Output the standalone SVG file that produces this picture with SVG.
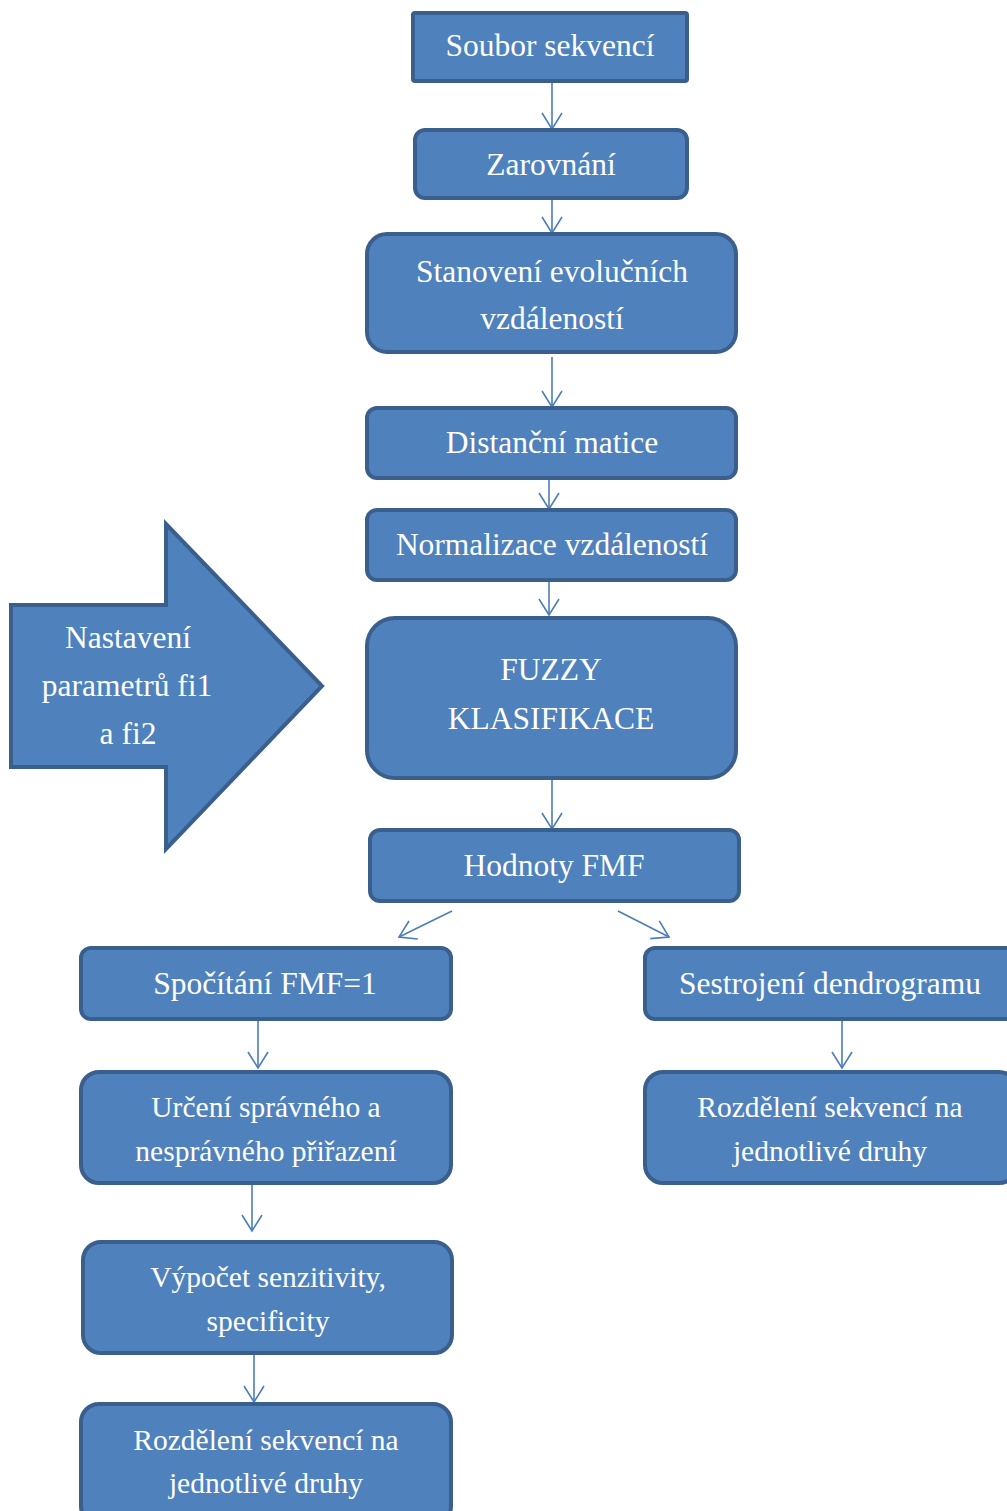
<svg xmlns="http://www.w3.org/2000/svg" width="1007" height="1511" viewBox="0 0 1007 1511">
<defs>
<style>
.n{fill:#4F81BD;stroke:#3A5F8C;stroke-width:4}
.t{font-family:'Liberation Serif','Times New Roman',Times,'DejaVu Serif',serif;font-size:31.5px;fill:#FFFFFF;text-anchor:middle}
.s{font-size:29.5px}
.c{stroke:#4A7EBB;stroke-width:1.6;fill:none}
</style>
<marker id="ah" markerUnits="userSpaceOnUse" markerWidth="20" markerHeight="24" viewBox="0 0 20 24" refX="18" refY="12" orient="auto">
<path d="M2,2 L18,12 L2,22" fill="none" stroke="#4A7EBB" stroke-width="1.6"/>
</marker>
</defs>
<rect width="1007" height="1511" fill="#FFFFFF"/>
<g id="connectors">
<line class="c" x1="552" y1="82" x2="552" y2="129" marker-end="url(#ah)"/>
<line class="c" x1="552" y1="199" x2="552" y2="233" marker-end="url(#ah)"/>
<line class="c" x1="552" y1="357" x2="552" y2="407" marker-end="url(#ah)"/>
<line class="c" x1="549" y1="462" x2="549" y2="509" marker-end="url(#ah)"/>
<line class="c" x1="549" y1="568" x2="549" y2="615" marker-end="url(#ah)"/>
<line class="c" x1="552" y1="780" x2="552" y2="829" marker-end="url(#ah)"/>
<line class="c" x1="452" y1="911" x2="399" y2="937" marker-end="url(#ah)"/>
<line class="c" x1="618" y1="911" x2="669" y2="937" marker-end="url(#ah)"/>
<line class="c" x1="258" y1="1019" x2="258" y2="1068" marker-end="url(#ah)"/>
<line class="c" x1="842" y1="1019" x2="842" y2="1068" marker-end="url(#ah)"/>
<line class="c" x1="252" y1="1183" x2="252" y2="1231" marker-end="url(#ah)"/>
<line class="c" x1="254" y1="1353" x2="254" y2="1402" marker-end="url(#ah)"/>
</g>
<g id="n1"><rect class="n" x="413" y="13" width="274" height="68" rx="2"/><text class="t" x="550" y="56">Soubor sekvencí</text></g>
<g id="n2"><rect class="n" x="415" y="130" width="272" height="68" rx="10"/><text class="t" x="551" y="175">Zarovnání</text></g>
<g id="n3"><rect class="n" x="367" y="234" width="369" height="118" rx="20"/><text class="t" x="552" y="282">Stanovení evolučních</text><text class="t" x="552" y="329">vzdáleností</text></g>
<g id="n4"><rect class="n" x="367" y="408" width="369" height="70" rx="10"/><text class="t" x="552" y="453">Distanční matice</text></g>
<g id="n5"><rect class="n" x="367" y="510" width="369" height="70" rx="10"/><text class="t" x="552" y="555">Normalizace vzdáleností</text></g>
<g id="n6"><rect class="n" x="367" y="618" width="369" height="160" rx="28"/><text class="t" x="551" y="680">FUZZY</text><text class="t" x="551" y="729">KLASIFIKACE</text></g>
<g id="n7"><rect class="n" x="370" y="830" width="369" height="71" rx="10"/><text class="t" x="554" y="876">Hodnoty FMF</text></g>
<g id="n8"><rect class="n" x="81" y="948" width="370" height="71" rx="10"/><text class="t" x="265" y="994">Spočítání FMF=1</text></g>
<g id="n9"><rect class="n" x="645" y="948" width="372" height="71" rx="10"/><text class="t" x="830" y="994">Sestrojení dendrogramu</text></g>
<g id="n10"><rect class="n" x="81" y="1072" width="370" height="111" rx="18"/><text class="t s" x="266" y="1117">Určení správného a</text><text class="t s" x="266" y="1161">nesprávného přiřazení</text></g>
<g id="n11"><rect class="n" x="645" y="1072" width="372" height="111" rx="18"/><text class="t s" x="830" y="1117">Rozdělení sekvencí na</text><text class="t s" x="830" y="1161">jednotlivé druhy</text></g>
<g id="n12"><rect class="n" x="83" y="1242" width="369" height="111" rx="18"/><text class="t s" x="268" y="1287">Výpočet senzitivity,</text><text class="t s" x="268" y="1331">specificity</text></g>
<g id="n13"><rect class="n" x="81" y="1404" width="370" height="120" rx="18"/><text class="t s" x="266" y="1450">Rozdělení sekvencí na</text><text class="t s" x="266" y="1493">jednotlivé druhy</text></g>
<g id="n14"><polygon class="n" points="11,605 166,605 166,524 322,686 166,849 166,767 11,767"/><text class="t" x="128" y="648">Nastavení</text><text class="t" x="127" y="696">parametrů fi1</text><text class="t" x="128" y="744">a fi2</text></g>
</svg>
